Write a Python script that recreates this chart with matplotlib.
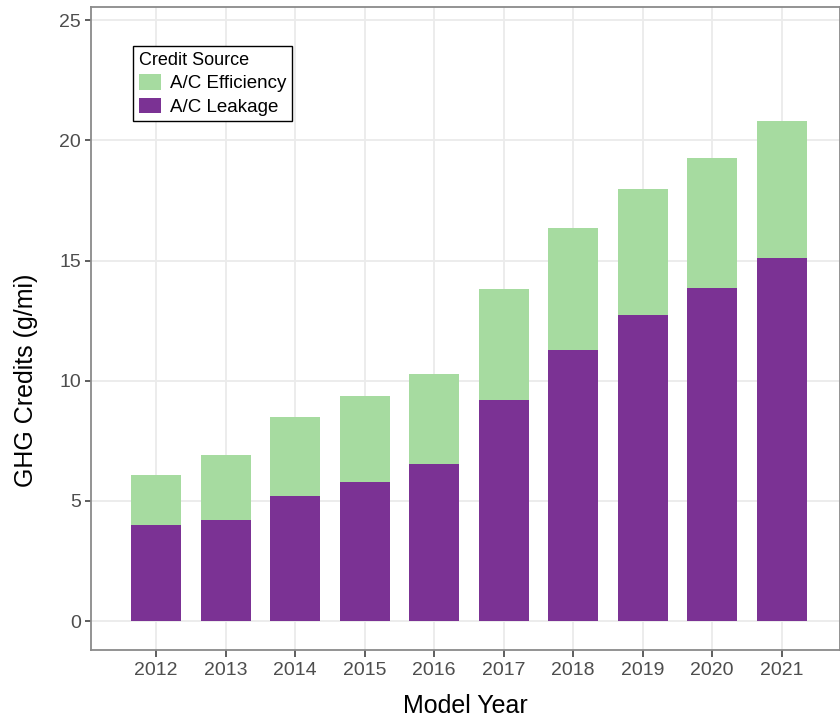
import matplotlib.pyplot as plt

plt.rcParams['font.family'] = ['Liberation Sans', 'DejaVu Sans']

years = [2012, 2013, 2014, 2015, 2016, 2017, 2018, 2019, 2020, 2021]
leakage = [4.0, 4.2, 5.2, 5.8, 6.55, 9.2, 11.3, 12.72, 13.88, 15.1]
total = [6.1, 6.93, 8.48, 9.35, 10.3, 13.81, 16.35, 17.97, 19.26, 20.8]
efficiency = [t - l for t, l in zip(total, leakage)]

GREEN = "#a6dba0"
PURPLE = "#7b3294"

fig = plt.figure(figsize=(8.4, 7.21), dpi=100)
ax = fig.add_axes([0.108, 0.0985, 0.892, 0.8918])

ax.bar(years, leakage, width=0.72, color=PURPLE, label="A/C Leakage", zorder=2)
ax.bar(years, efficiency, width=0.72, bottom=leakage, color=GREEN,
       label="A/C Efficiency", zorder=2)

ax.set_xlim(2011.06, 2021.84)
ax.set_ylim(-1.2, 25.55)
ax.set_xticks(years)
ax.set_yticks([0, 5, 10, 15, 20, 25])

ax.grid(True, color="#ebebeb", linewidth=1.3, zorder=0)
ax.set_axisbelow(True)
for s in ax.spines.values():
    s.set_color("#8a8a8a")
    s.set_linewidth(1.3)

ax.tick_params(axis="both", labelsize=14, labelcolor="#4d4d4d",
               color="#333333", width=1.1)
ax.tick_params(axis="x", length=5, pad=4)
ax.tick_params(axis="y", length=4, pad=3)

ax.set_xlabel("Model Year", fontsize=18, labelpad=10.5)
ax.set_ylabel("GHG Credits (g/mi)", fontsize=18)
ax.yaxis.set_label_coords(-0.07, 0.42)

handles, labels = ax.get_legend_handles_labels()
leg = ax.legend(handles[::-1], labels[::-1], title="Credit Source",
                loc="upper left", bbox_to_anchor=(0.0565, 0.939),
                borderaxespad=0, fancybox=False, framealpha=1,
                edgecolor="black", fontsize=13.5, title_fontsize=13,
                handlelength=1.2, handleheight=0.9, handletextpad=0.45,
                labelspacing=0.28, borderpad=0.3, alignment="left")
leg.get_frame().set_linewidth(1.0)

fig.savefig("out.png", dpi=100)
